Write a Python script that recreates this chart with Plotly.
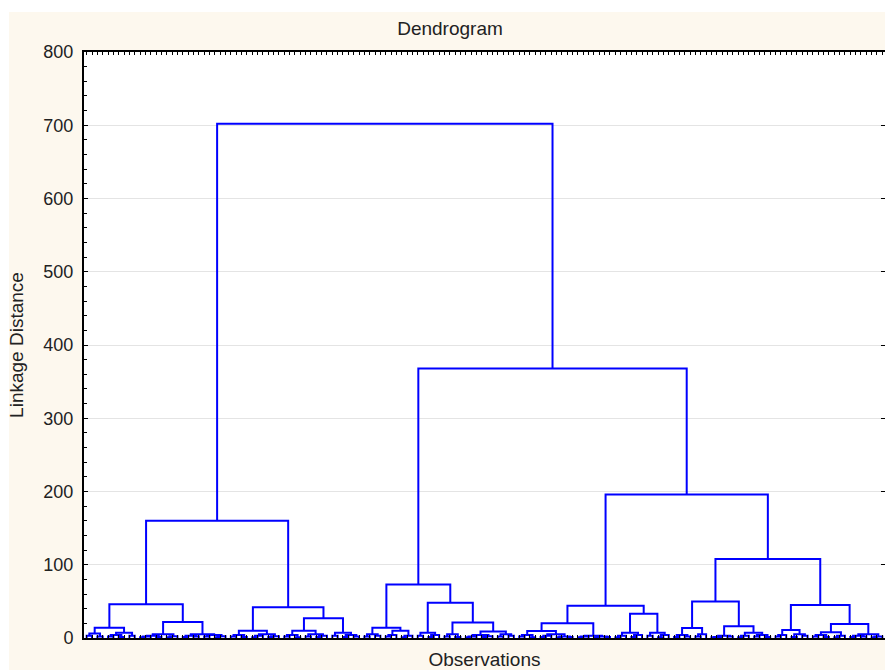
import plotly.graph_objects as go

# ---------------- text ----------------
TITLE = "Dendrogram"
X_TITLE = "Observations"
Y_TITLE = "Linkage Distance"
Y_TICKS = [0, 100, 200, 300, 400, 500, 600, 700, 800]

# ---------------- tree data ----------------
# node = [merge height, left, right]; leaf = 0
A1 = [6, [3, 0, 0], [2, 0, 0]]
A2 = [7, [4, [2, 0, 0], [1.5, 0, 0]], [3, 0, 0]]
A = [14, A1, A2]
B1 = [5, [3, [2, [1, 0, 0], 0], [1.5, 0, 0]], [2.5, [1, 0, 0], 0]]
B2 = [5, [3, [1.5, 0, 0], [2, 0, 0]], [4, [2, 0, 0], [2.5, [1, 0, 0], 0]]]
B = [22, B1, B2]
LL = [46, A, B]

C = [10, [4, [2, 0, 0], [1.5, 0, 0]], [5, [3, [1, 0, 0], 0], [2.5, [1.5, 0, 0], 0]]]
D1 = [10, [4, [2, 0, 0], [1, 0, 0]], [5, [2, 0, 0], [3, [1.5, 0, 0], 0]]]
D2 = [7, [3, 0, 0], [4, [1.5, 0, 0], [2, 0, 0]]]
D = [27, D1, D2]
LR = [42, C, D]
LEFT = [160, LL, LR]

E = [14, [5, [2, 0, 0], [3, 0, 0]], [10, [4, [2, 0, 0], 0], [3, [1, 0, 0], 0]]]
F1 = [7, [3, 0, 0], [4, [1.5, 0, 0], 0]]
F2A = [5, [2, 0, 0], [1.5, 0, 0]]
F2B = [9, [4, [2, [1, 0, 0], 0], [2.5, [1.5, 0, 0], 0]], [5, [2, 0, 0], [3, 0, 0]]]
F2 = [21, F2A, F2B]
F = [48, F1, F2]
N72 = [73, E, F]

G1A = [9.5, [4, [2, 0, 0], [1, 0, 0]], [5, [3, [1.5, 0, 0], 0], [2, [1, 0, 0], [1.5, 0, 0]]]]
G1B = [3, [2, [1, 0, 0], 0], [2, [1, 0, 0], [1.5, 0, 0]]]
G1 = [20, G1A, G1B]
G2A = [7, [3, [1, 0, 0], 0], [4, [1.5, 0, 0], 0]]
G2B = [7, [3, 0, 0], [4, [1, 0, 0], 0]]
G2 = [33, G2A, G2B]
G = [44, G1, G2]

H1A = [13.6, [4, [1.5, 0, 0], [2, 0, 0]], [5, [2, 0, 0], 0]]
H1B = [16, [3, [1.5, [1, 0, 0], 0], [2, 0, 0]], [7, [3, [1, 0, 0], 0], [4, [2, 0, 0], [1.5, 0, 0]]]]
H1 = [50, H1A, H1B]
H2A = [11, [4, [2, 0, 0], 0], [5, [1.5, 0, 0], [3, 0, 0]]]
H2B = [19, [8, [4, [2, 0, 0], [1.5, 0, 0]], [3, [1, 0, 0], 0]],
       [5, [3, [1.5, 0, 0], [2, 0, 0]], [2, [1, 0, 0], 0]]]
H2 = [45, H2A, H2B]
H = [108, H1, H2]
N195 = [196, G, H]
N367 = [368, N72, N195]
ROOT = [702, LEFT, N367]

# ---------------- build link paths ----------------
xs, ys = [], []
counter = [0]


def walk(node):
    if not isinstance(node, list):
        i = counter[0]
        counter[0] += 1
        return float(i), 0.0
    h, left, right = node
    xl, hl = walk(left)
    xr, hr = walk(right)
    xs.extend([xl, xl, xr, xr, None])
    ys.extend([hl, h, h, hr, None])
    return (xl + xr) / 2.0, h


walk(ROOT)
N_LEAVES = counter[0]
LEAF_TICKS = list(range(N_LEAVES))

FONT = "Liberation Sans, Arial, sans-serif"
CREAM = "#fdf8ee"

fig = go.Figure()
fig.add_trace(go.Scatter(
    x=xs, y=ys, mode="lines",
    line=dict(color="#0000ff", width=2),
    hoverinfo="skip", showlegend=False,
))
# empty helper trace so the right-hand tick axis is drawn
fig.add_trace(go.Scatter(x=[None], y=[None], yaxis="y2", mode="lines",
                         hoverinfo="skip", showlegend=False))

# figure fills the whole 885x670 page (body margin removed below)
W, Hh = 885, 670
L_M, R_M, T_M, B_M = 84, 0, 52, 32
pw = W - L_M - R_M
ph = Hh - T_M - B_M


def pxx(px):
    return (px - L_M) / pw


def pxy(py):
    return (Hh - B_M - py) / ph


shapes = [
    # white strip along the left edge
    dict(type="rect", xref="paper", yref="paper",
         x0=pxx(-2), x1=pxx(9), y0=pxy(672), y1=pxy(-2),
         fillcolor="white", line=dict(width=0), layer="below"),
    # white strip along the top edge
    dict(type="rect", xref="paper", yref="paper",
         x0=pxx(-2), x1=pxx(887), y0=pxy(12), y1=pxy(-2),
         fillcolor="white", line=dict(width=0), layer="below"),
]

fig.update_layout(
    width=W, height=Hh,
    margin=dict(l=L_M, r=R_M, t=T_M, b=B_M, pad=0),
    paper_bgcolor=CREAM, plot_bgcolor="white",
    font=dict(family=FONT, size=18, color="#222222"),
    title=dict(text=TITLE, x=450 / W, xref="container", xanchor="center",
               y=1 - 28 / Hh, yref="container", yanchor="middle",
               font=dict(family=FONT, size=19, color="#222222")),
    shapes=shapes,
)

fig.update_xaxes(
    range=[-0.5, N_LEAVES - 0.5],
    tickmode="array", tickvals=LEAF_TICKS, showticklabels=False,
    ticks="inside", ticklen=3, tickwidth=1, tickcolor="black",
    showline=True, linewidth=2, linecolor="black", mirror="ticks",
    showgrid=False, zeroline=False,
    title=dict(text=X_TITLE, standoff=14, font=dict(size=19)),
)

fig.update_layout(
    yaxis=dict(
        range=[0, 800],
        tickmode="array", tickvals=Y_TICKS,
        ticks="inside", ticklen=4, tickwidth=1, tickcolor="black",
        minor=dict(dtick=20, ticks="inside", ticklen=3, tickcolor="black", showgrid=False),
        showline=True, linewidth=2, linecolor="black", mirror=False,
        showgrid=True, gridcolor="#e4e4e4", gridwidth=1,
        zeroline=False,
        ticklabelstandoff=5,
        title=dict(text=Y_TITLE, standoff=15, font=dict(size=19)),
    ),
    yaxis2=dict(
        range=[0, 800], overlaying="y", side="right", anchor="x",
        tickmode="array", tickvals=Y_TICKS,
        ticks="inside", ticklen=4, tickwidth=1, tickcolor="black",
        showticklabels=False, showline=False, showgrid=False, zeroline=False,
    ),
)

fig.write_html(
    "out.html",
    config={"displayModeBar": False},
    post_script=(
        "document.body.style.margin='0';"
        "document.body.style.overflow='hidden';"
        "document.documentElement.style.overflow='hidden';"
    ),
)
